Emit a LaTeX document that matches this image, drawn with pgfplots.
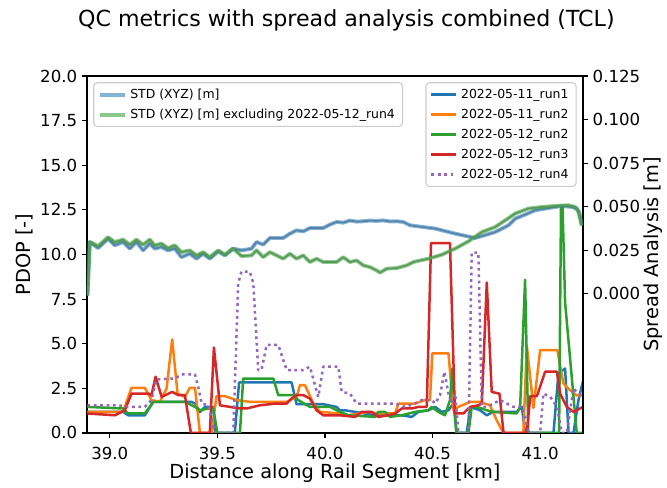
\documentclass[border=0pt]{standalone}
\usepackage{pgfplots}
\pgfplotsset{compat=1.18}
\usepackage{fontspec}
\setmainfont{DejaVu Sans}
\definecolor{tabblue}{HTML}{1F77B4}
\definecolor{taborange}{HTML}{FF7F0E}
\definecolor{tabgreen}{HTML}{2CA02C}
\definecolor{tabred}{HTML}{D62728}
\definecolor{tabpurple}{HTML}{9467BD}
\definecolor{stdbluecore}{RGB}{88,130,170}
\definecolor{stdgreencore}{RGB}{92,152,92}
\pgfplotsset{
  mplbase/.style={
    scale only axis, width=357.1bp, height=257bp,
    xmin=38.894, xmax=41.199,
    tick align=outside, major tick length=3.5bp,
    every tick/.style={black, line width=0.8bp},
    axis line style={line width=0.8bp},
    /pgf/number format/assume math mode=true,
    every tick label/.append style={font=\fontsize{12}{14}\selectfont},
    label style={font=\fontsize{14}{17}\selectfont},
    legend cell align=left,
    legend image code/.code={\draw[##1] (0bp,0bp) -- (18bp,0bp);},
    legend style={draw=black!20, line width=0.8bp, rounded corners=2.5bp, fill=white, fill opacity=0.8, text opacity=1,
      font=\fontsize{9}{11}\selectfont, inner xsep=3bp, inner ysep=2.5bp, row sep=2.4bp,
      nodes={inner xsep=2.5bp, inner ysep=1.5bp, text height=7bp, text depth=2bp}},
  },
  run/.style={line width=1.8bp, line join=round},
}
\begin{document}
\begin{tikzpicture}
\begin{axis}[mplbase,
  ymin=0, ymax=20,
  xtick={39,39.5,40,40.5,41}, xtick pos=left, ytick pos=left,
  ytick={0,2.5,5,7.5,10,12.5,15,17.5,20},
  xticklabel style={yshift=-3.5bp, /pgf/number format/.cd, fixed, fixed zerofill, precision=1},
  yticklabel style={/pgf/number format/.cd, fixed, fixed zerofill, precision=1},
  xlabel={Distance along Rail Segment [km]},
  ylabel={PDOP [-]},
  xlabel style={at={(axis description cs:0.5,0)}, anchor=base, yshift=-32.5bp},
  ylabel style={at={(axis description cs:-0.114,0.5)}, anchor=base},
  title={QC metrics with spread analysis combined (TCL)},
  title style={at={(axis description cs:0.523,1)}, anchor=base, yshift=30bp, font=\fontsize{16}{19}\selectfont},
  legend style={at={(1,1)}, anchor=north east, xshift=-4.5bp, yshift=-4.5bp},
]
% 2022-05-11_run1
\addplot[run, tabblue] coordinates {
(38.896,1.18)(39.062,1.18)(39.086,0.99)(39.163,0.99)(39.202,1.74)(39.380,1.74)(39.396,1.65)(39.419,1.18)
(39.442,1.46)(39.481,1.46)(39.489,0)(39.581,0)(39.601,2.83)(39.845,2.83)(39.868,1.61)(39.992,1.61)
(40.054,1.46)(40.070,1.27)(40.093,1.27)(40.140,1.18)(40.233,0.99)(40.357,0.99)(40.403,0.90)(40.434,1.18)
(40.481,1.27)(40.512,1.46)(40.543,1.18)(40.574,1.27)(40.597,1.65)(40.612,0)(40.659,0)(40.675,1.46)
(40.721,1.27)(40.752,0.99)(40.783,1.18)(40.891,1.18)(40.915,1.46)(40.930,0)(41.062,0)(41.085,3.33)
(41.116,3.61)(41.132,0)(41.155,0)(41.178,1.84)(41.199,2.9)};
% 2022-05-11_run2
\addplot[run, taborange] coordinates {
(38.896,1.18)(39.062,1.18)(39.101,2.53)(39.163,2.53)(39.194,1.84)(39.233,1.74)(39.264,2.49)(39.290,5.24)
(39.315,2.21)(39.349,2.02)(39.372,2.53)(39.396,2.53)(39.419,0)(39.473,0)(39.496,2.06)(39.535,2.06)
(39.589,1.84)(39.651,1.74)(39.822,1.74)(39.868,2.02)(39.884,2.68)(39.907,2.68)(39.946,1.65)(39.977,1.18)
(40.070,1.09)(40.109,0.99)(40.202,1.18)(40.248,1.09)(40.326,1.09)(40.341,1.65)(40.419,1.65)(40.465,1.84)
(40.488,1.84)(40.499,4.46)(40.574,4.46)(40.597,1.27)(40.620,1.46)(40.674,1.74)(40.721,1.74)(40.767,1.55)
(40.798,0.71)(40.829,0)(40.922,0)(40.938,4.9)(40.969,1.4)(41.000,4.64)(41.080,4.64)(41.108,2.77)
(41.139,2.40)(41.170,2.10)(41.199,2.10)};
% 2022-05-12_run2
\addplot[run, tabgreen] coordinates {
(38.896,1.46)(39.062,1.37)(39.086,1.09)(39.163,1.09)(39.202,1.74)(39.349,1.74)(39.396,1.46)(39.419,1.27)
(39.458,1.37)(39.481,1.37)(39.500,0)(39.605,0)(39.620,3.05)(39.760,3.05)(39.783,2.12)(39.853,2.12)
(39.876,1.84)(39.930,1.46)(40.023,1.46)(40.070,1.18)(40.109,0.99)(40.233,0.90)(40.248,1.18)(40.279,1.18)
(40.302,0.90)(40.357,0.99)(40.419,1.18)(40.481,1.27)(40.496,1.46)(40.527,1.18)(40.558,0.99)(40.581,1.84)
(40.592,3.6)(40.610,0)(40.667,0)(40.682,1.46)(40.706,1.46)(40.752,1.27)(40.783,1.18)(40.891,1.09)
(40.907,1.46)(40.930,8.58)(40.945,0)(41.088,0)(41.097,12.7)(41.104,12.7)(41.116,7.3)(41.170,0)(41.199,0)};
% 2022-05-12_run3
\addplot[run, tabred] coordinates {
(38.896,1.09)(39.024,0.99)(39.070,1.27)(39.101,2.21)(39.179,2.21)(39.194,2.12)(39.213,3.15)(39.241,2.02)
(39.290,2.30)(39.318,2.12)(39.349,2.12)(39.377,0)(39.465,0)(39.484,4.79)(39.512,1.55)(39.558,1.46)
(39.605,1.37)(39.636,1.37)(39.667,1.46)(39.698,1.55)(39.775,1.65)(39.822,1.65)(39.845,1.93)(39.868,2.12)
(39.899,2.12)(39.930,1.93)(39.961,1.27)(39.992,0.99)(40.070,0.99)(40.140,0.90)(40.170,1.18)(40.217,1.18)
(40.248,0.90)(40.295,0.99)(40.326,1.09)(40.357,1.37)(40.403,1.37)(40.434,1.46)(40.473,1.46)(40.493,10.64)
(40.581,10.64)(40.604,1.09)(40.643,1.09)(40.675,1.46)(40.713,1.55)(40.729,1.65)(40.752,8.43)(40.775,2.30)
(40.811,2.20)(40.830,0)(40.938,0)(40.954,2.06)(40.985,2.06)(41.023,3.43)(41.078,3.43)(41.093,2.20)
(41.124,1.46)(41.155,1.18)(41.199,1.46)};
% 2022-05-12_run4
\addplot[run, tabpurple, dash pattern=on 2bp off 2.6bp, line cap=butt] coordinates {
(38.896,1.55)(39.039,1.55)(39.086,1.46)(39.163,1.46)(39.194,1.84)(39.217,3.00)(39.303,3.05)(39.334,3.28)
(39.396,3.28)(39.411,2.58)(39.427,1.65)(39.458,1.55)(39.489,0)(39.574,0)(39.597,8.39)(39.612,9.04)
(39.651,9.04)(39.667,8.39)(39.690,3.52)(39.705,3.52)(39.729,4.93)(39.783,4.93)(39.822,3.52)(39.899,3.52)
(39.930,3.71)(39.969,2.02)(39.992,3.71)(40.062,3.71)(40.078,2.30)(40.116,2.21)(40.147,1.65)(40.326,1.65)
(40.372,1.46)(40.419,1.65)(40.450,1.84)(40.496,1.84)(40.512,1.65)(40.535,2.12)(40.555,3.43)(40.574,2.21)
(40.589,1.65)(40.605,2.21)(40.620,0)(40.667,0)(40.682,10.1)(40.713,10.1)(40.729,1.46)(40.752,1.46)
(40.783,1.65)(40.814,1.84)(40.845,1.65)(40.876,1.46)(40.915,1.46)(40.930,0.9)(40.945,0)(41.000,0)
(41.015,2.21)(41.047,2.02)(41.078,1.46)(41.101,0)(41.124,0)(41.155,2.49)(41.178,2.21)(41.199,2.02)};
\legend{2022-05-11\_run1,2022-05-11\_run2,2022-05-12\_run2,2022-05-12\_run3,2022-05-12\_run4}
\end{axis}
\begin{axis}[mplbase,
  ymin=-0.0799, ymax=0.125,
  axis x line=none, axis y line*=right, ytick pos=right,
  ytick={0,0.025,0.05,0.075,0.1,0.125},
  yticklabel style={/pgf/number format/.cd, fixed, fixed zerofill, precision=3},
  ylabel={Spread Analysis [m]},
  ylabel style={at={(axis description cs:1.153,0.5)}, anchor=base, rotate=0},
  legend style={at={(0,1)}, anchor=north west, xshift=4.5bp, yshift=-4.5bp},
]
\addplot[tabblue, draw opacity=0.55, line width=2.8bp, line join=round] coordinates {
(38.896,-0.0010)(38.907,0.0297)(38.946,0.0262)(38.992,0.0316)(39.023,0.0278)(39.062,0.0297)(39.093,0.0259)
(39.124,0.0297)(39.155,0.0249)(39.186,0.0288)(39.209,0.0259)(39.240,0.0268)(39.271,0.0249)(39.302,0.0259)
(39.333,0.0210)(39.372,0.0230)(39.403,0.0201)(39.434,0.0230)(39.465,0.0201)(39.504,0.0243)(39.535,0.0220)
(39.573,0.0259)(39.613,0.0249)(39.659,0.0259)(39.682,0.0297)(39.713,0.0282)(39.744,0.0320)(39.806,0.0320)
(39.837,0.0345)(39.868,0.0364)(39.899,0.0358)(39.930,0.0377)(39.992,0.0377)(40.023,0.0397)(40.054,0.0412)
(40.085,0.0408)(40.116,0.0420)(40.147,0.0414)(40.178,0.0416)(40.209,0.0420)(40.240,0.0418)(40.271,0.0421)
(40.302,0.0415)(40.333,0.0416)(40.364,0.0412)(40.395,0.0393)(40.419,0.0389)(40.512,0.0374)(40.605,0.0345)
(40.698,0.0320)(40.729,0.0331)(40.791,0.0354)(40.853,0.0393)(40.884,0.0431)(40.930,0.0454)(40.977,0.0479)
(41.039,0.0492)(41.101,0.0504)(41.147,0.0498)(41.171,0.0489)(41.181,0.0469)(41.194,0.0393)};
\addplot[stdbluecore, line width=1.2bp, line join=round, forget plot] coordinates {
(38.896,-0.0010)(38.907,0.0297)(38.946,0.0262)(38.992,0.0316)(39.023,0.0278)(39.062,0.0297)(39.093,0.0259)
(39.124,0.0297)(39.155,0.0249)(39.186,0.0288)(39.209,0.0259)(39.240,0.0268)(39.271,0.0249)(39.302,0.0259)
(39.333,0.0210)(39.372,0.0230)(39.403,0.0201)(39.434,0.0230)(39.465,0.0201)(39.504,0.0243)(39.535,0.0220)
(39.573,0.0259)(39.613,0.0249)(39.659,0.0259)(39.682,0.0297)(39.713,0.0282)(39.744,0.0320)(39.806,0.0320)
(39.837,0.0345)(39.868,0.0364)(39.899,0.0358)(39.930,0.0377)(39.992,0.0377)(40.023,0.0397)(40.054,0.0412)
(40.085,0.0408)(40.116,0.0420)(40.147,0.0414)(40.178,0.0416)(40.209,0.0420)(40.240,0.0418)(40.271,0.0421)
(40.302,0.0415)(40.333,0.0416)(40.364,0.0412)(40.395,0.0393)(40.419,0.0389)(40.512,0.0374)(40.605,0.0345)
(40.698,0.0320)(40.729,0.0331)(40.791,0.0354)(40.853,0.0393)(40.884,0.0431)(40.930,0.0454)(40.977,0.0479)
(41.039,0.0492)(41.101,0.0504)(41.147,0.0498)(41.171,0.0489)(41.181,0.0469)(41.194,0.0393)};
\addplot[tabgreen, draw opacity=0.55, line width=2.8bp, line join=round] coordinates {
(38.896,-0.0010)(38.907,0.0297)(38.946,0.0274)(38.992,0.0325)(39.023,0.0297)(39.062,0.0311)(39.093,0.0282)
(39.124,0.0311)(39.155,0.0282)(39.186,0.0311)(39.209,0.0278)(39.240,0.0288)(39.271,0.0262)(39.302,0.0278)
(39.333,0.0239)(39.372,0.0249)(39.403,0.0220)(39.434,0.0239)(39.465,0.0210)(39.504,0.0249)(39.535,0.0224)
(39.573,0.0259)(39.613,0.0216)(39.659,0.0220)(39.682,0.0249)(39.713,0.0210)(39.744,0.0239)(39.775,0.0220)
(39.806,0.0201)(39.837,0.0230)(39.868,0.0201)(39.899,0.0220)(39.930,0.0182)(39.961,0.0201)(39.992,0.0182)
(40.054,0.0182)(40.085,0.0210)(40.116,0.0182)(40.147,0.0191)(40.178,0.0163)(40.209,0.0153)(40.240,0.0134)
(40.256,0.0121)(40.287,0.0144)(40.333,0.0147)(40.380,0.0163)(40.411,0.0182)(40.442,0.0191)(40.480,0.0201)
(40.543,0.0224)(40.605,0.0259)(40.667,0.0301)(40.729,0.0354)(40.791,0.0383)(40.837,0.0421)(40.884,0.0460)
(40.945,0.0489)(41.008,0.0498)(41.070,0.0504)(41.132,0.0508)(41.163,0.0498)(41.178,0.0469)(41.194,0.0393)};
\addplot[stdgreencore, line width=1.2bp, line join=round, forget plot] coordinates {
(38.896,-0.0010)(38.907,0.0297)(38.946,0.0274)(38.992,0.0325)(39.023,0.0297)(39.062,0.0311)(39.093,0.0282)
(39.124,0.0311)(39.155,0.0282)(39.186,0.0311)(39.209,0.0278)(39.240,0.0288)(39.271,0.0262)(39.302,0.0278)
(39.333,0.0239)(39.372,0.0249)(39.403,0.0220)(39.434,0.0239)(39.465,0.0210)(39.504,0.0249)(39.535,0.0224)
(39.573,0.0259)(39.613,0.0216)(39.659,0.0220)(39.682,0.0249)(39.713,0.0210)(39.744,0.0239)(39.775,0.0220)
(39.806,0.0201)(39.837,0.0230)(39.868,0.0201)(39.899,0.0220)(39.930,0.0182)(39.961,0.0201)(39.992,0.0182)
(40.054,0.0182)(40.085,0.0210)(40.116,0.0182)(40.147,0.0191)(40.178,0.0163)(40.209,0.0153)(40.240,0.0134)
(40.256,0.0121)(40.287,0.0144)(40.333,0.0147)(40.380,0.0163)(40.411,0.0182)(40.442,0.0191)(40.480,0.0201)
(40.543,0.0224)(40.605,0.0259)(40.667,0.0301)(40.729,0.0354)(40.791,0.0383)(40.837,0.0421)(40.884,0.0460)
(40.945,0.0489)(41.008,0.0498)(41.070,0.0504)(41.132,0.0508)(41.163,0.0498)(41.178,0.0469)(41.194,0.0393)};
\legend{STD (XYZ) [m],STD (XYZ) [m] excluding 2022-05-12\_run4}
\end{axis}
\pgfresetboundingbox
\path[use as bounding box] (-62.6bp,-39.6bp) rectangle (417.6bp,311.7bp);
\end{tikzpicture}
\end{document}
